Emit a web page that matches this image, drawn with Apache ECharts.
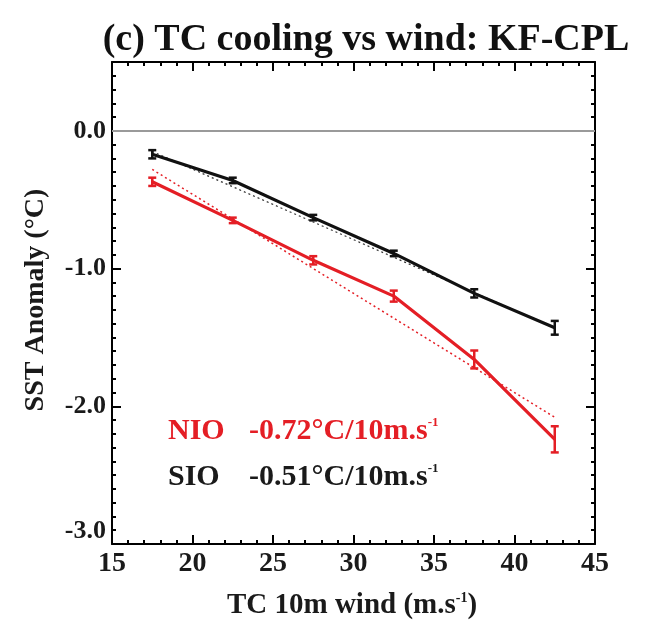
<!DOCTYPE html>
<html><head><meta charset="utf-8">
<script src="https://cdn.jsdelivr.net/npm/echarts@6/dist/echarts.min.js"></script>
<style>html,body{margin:0;padding:0;background:#fff}#c{width:648px;height:625px}</style>
</head><body><div id="c"></div>
<script>
// ---- data ----
const windBins = [17.5, 22.5, 27.5, 32.5, 37.5, 42.5];
const nioSST = [-0.37, -0.65, -0.94, -1.20, -1.66, -2.24];
const nioErr = [0.03, 0.02, 0.03, 0.04, 0.065, 0.095];
const sioSST = [-0.17, -0.36, -0.63, -0.89, -1.18, -1.43];
const sioErr = [0.03, 0.02, 0.02, 0.02, 0.03, 0.05];
const fitX = [17.5, 42.5];
const nioFit = [-0.28, -2.08];
const sioFit = [-0.15, -1.43];
const titleText = '(c) TC cooling vs wind: KF-CPL';
const nioLabel = 'NIO', nioSlope = '-0.72°C/10m.s';
const sioLabel = 'SIO', sioSlope = '-0.51°C/10m.s';
const xName = 'TC 10m wind (m.s', yName = 'SST Anomaly (°C)';

// ---- style ----
const RED = '#e41e25', BLK = '#111111';
const FONT = '"Liberation Serif", "Times New Roman", serif';

const pairs = (xs, ys) => xs.map((x, i) => [x, ys[i]]);
const errData = (xs, ys, es) => xs.map((x, i) => [x, ys[i], es[i]]);

function errRender(color) {
  return function (params, api) {
    const x = api.value(0), y = api.value(1), e = api.value(2);
    const t = api.coord([x, y + e]), b = api.coord([x, y - e]);
    const hw = 4, st = { stroke: color, lineWidth: 2.5 };
    return { type: 'group', children: [
      { type: 'line', shape: { x1: t[0], y1: t[1], x2: b[0], y2: b[1] }, style: st },
      { type: 'line', shape: { x1: t[0] - hw, y1: t[1], x2: t[0] + hw, y2: t[1] }, style: st },
      { type: 'line', shape: { x1: b[0] - hw, y1: b[1], x2: b[0] + hw, y2: b[1] }, style: st }
    ]};
  };
}

const axLine = { show: true, onZero: false, lineStyle: { color: '#000', width: 2 } };
const tick = { show: true, inside: true, length: 9, lineStyle: { color: '#000', width: 2 } };
const minor = (n) => ({ show: true, splitNumber: n, length: 4, lineStyle: { color: '#000', width: 2 } });
const labelStyle = (sz) => ({ fontFamily: FONT, fontWeight: 'bold', fontSize: sz, color: '#1a1a1a' });

const chart = echarts.init(document.getElementById('c'));
chart.setOption({
  animation: false,
  backgroundColor: '#fff',
  grid: { left: 112, right: 53, top: 62, bottom: 81, show: false },
  xAxis: [
    { type: 'value', min: 15, max: 45, interval: 5, position: 'bottom',
      axisLine: axLine, axisTick: tick, minorTick: minor(5), splitLine: { show: false },
      axisLabel: Object.assign({ margin: 6, formatter: v => String(v) }, labelStyle(28)) },
    { type: 'value', min: 15, max: 45, interval: 5, position: 'top',
      axisLine: axLine, axisTick: tick, minorTick: minor(5), splitLine: { show: false },
      axisLabel: { show: false } }
  ],
  yAxis: [
    { type: 'value', min: -3, max: 0.5, interval: 1, position: 'left',
      axisLine: axLine, axisTick: tick, minorTick: minor(10), splitLine: { show: false },
      axisLabel: Object.assign({ margin: 6, verticalAlignMinLabel: 'bottom', showMaxLabel: false,
        formatter: v => (v > 0.1 ? '' : v.toFixed(1)) }, labelStyle(26)) },
    { type: 'value', min: -3, max: 0.5, interval: 1, position: 'right',
      axisLine: axLine, axisTick: tick, minorTick: minor(10), splitLine: { show: false },
      axisLabel: { show: false } }
  ],
  series: [
    { type: 'line', name: 'zero', data: [], silent: true,
      markLine: { silent: true, symbol: 'none', label: { show: false },
        lineStyle: { color: '#9a9a9a', width: 2, type: 'solid' }, data: [{ yAxis: 0 }] } },
    { type: 'line', name: 'SIO fit', data: pairs(fitX, sioFit), symbol: 'none',
      lineStyle: { color: '#333', width: 1.2, type: [2, 3] }, z: 2 },
    { type: 'line', name: 'SIO', data: pairs(windBins, sioSST), symbol: 'none',
      lineStyle: { color: BLK, width: 3.2 }, z: 3 },
    { type: 'line', name: 'NIO', data: pairs(windBins, nioSST), symbol: 'none',
      lineStyle: { color: RED, width: 3.2 }, z: 3 },
    { type: 'line', name: 'NIO fit', data: pairs(fitX, nioFit), symbol: 'none',
      lineStyle: { color: RED, width: 1.5, type: [2, 3] }, z: 4 },
    { type: 'custom', name: 'SIO err', data: errData(windBins, sioSST, sioErr),
      renderItem: errRender(BLK), encode: { x: 0, y: 1 }, z: 5 },
    { type: 'custom', name: 'NIO err', data: errData(windBins, nioSST, nioErr),
      renderItem: errRender(RED), encode: { x: 0, y: 1 }, z: 5 }
  ],
  graphic: [
    { type: 'text', x: 366, y: 40, style: { text: titleText, fill: '#111',
      font: 'bold 38px ' + FONT, textAlign: 'center', textVerticalAlign: 'middle' } },
    { type: 'text', x: 352, y: 606, style: {
      text: '{a|' + xName + '}{s|-1}{a|)}', textAlign: 'center', textVerticalAlign: 'middle',
      rich: { a: { fontFamily: FONT, fontWeight: 'bold', fontSize: 29, fill: '#1a1a1a' },
              s: { fontFamily: FONT, fontWeight: 'bold', fontSize: 14, fill: '#1a1a1a', verticalAlign: 'top', padding: [0, 0, 14, 0] } } } },
    { type: 'text', x: 36, y: 300, rotation: Math.PI / 2, style: { text: yName, fill: '#1a1a1a',
      font: 'bold 28px ' + FONT, textAlign: 'center', textVerticalAlign: 'middle' } },
    { type: 'text', x: 168, y: 431, style: { text: nioLabel, fill: RED,
      font: 'bold 30px ' + FONT, textVerticalAlign: 'middle' } },
    { type: 'text', x: 249, y: 431, style: {
      text: '{a|' + nioSlope + '}{s|-1}', textVerticalAlign: 'middle',
      rich: { a: { fontFamily: FONT, fontWeight: 'bold', fontSize: 30, fill: RED },
              s: { fontFamily: FONT, fontWeight: 'bold', fontSize: 13, fill: RED, verticalAlign: 'top', padding: [0, 0, 14, 0] } } } },
    { type: 'text', x: 168, y: 477, style: { text: sioLabel, fill: '#1a1a1a',
      font: 'bold 30px ' + FONT, textVerticalAlign: 'middle' } },
    { type: 'text', x: 249, y: 477, style: {
      text: '{a|' + sioSlope + '}{s|-1}', textVerticalAlign: 'middle',
      rich: { a: { fontFamily: FONT, fontWeight: 'bold', fontSize: 30, fill: '#1a1a1a' },
              s: { fontFamily: FONT, fontWeight: 'bold', fontSize: 13, fill: '#1a1a1a', verticalAlign: 'top', padding: [0, 0, 14, 0] } } } }
  ]
});
</script></body></html>
